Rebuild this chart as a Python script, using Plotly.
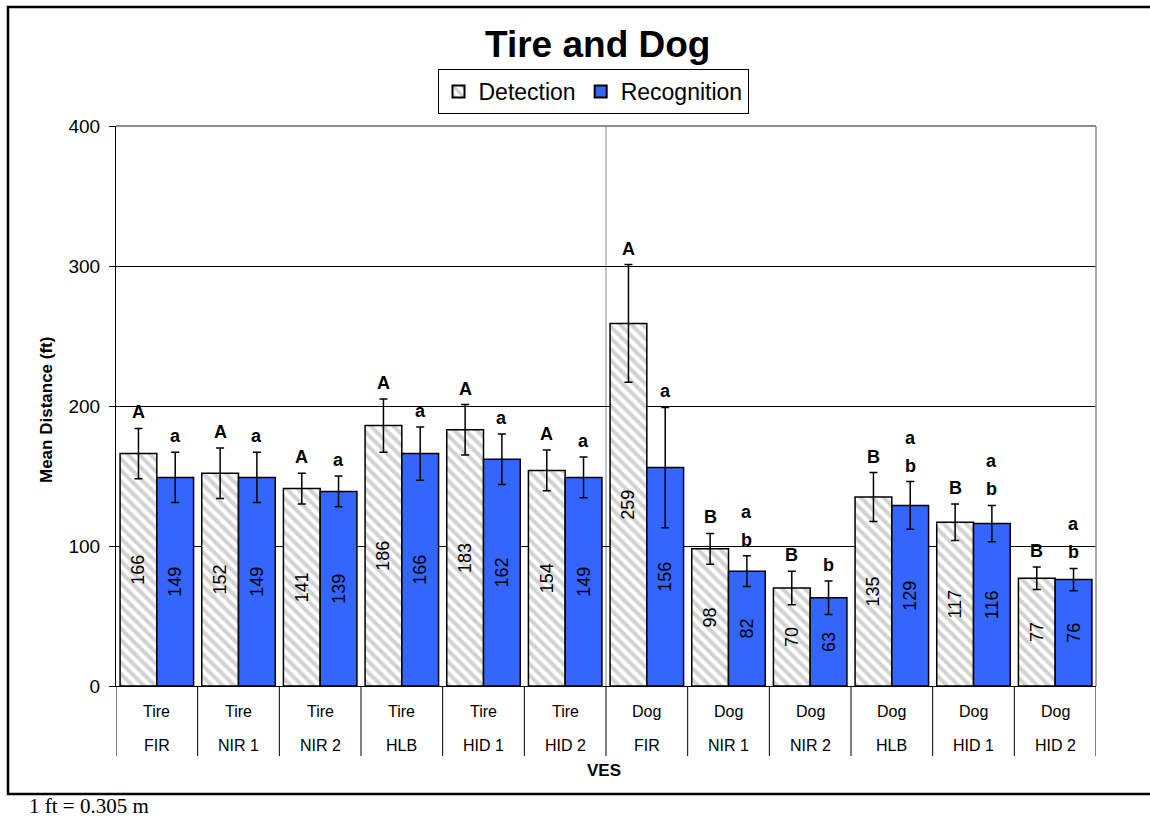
import plotly.graph_objects as go

# ---- data ----
targets = ["Tire", "Tire", "Tire", "Tire", "Tire", "Tire",
           "Dog", "Dog", "Dog", "Dog", "Dog", "Dog"]
ves = ["FIR", "NIR 1", "NIR 2", "HLB", "HID 1", "HID 2",
       "FIR", "NIR 1", "NIR 2", "HLB", "HID 1", "HID 2"]
detection = [166, 152, 141, 186, 183, 154, 259, 98, 70, 135, 117, 77]
recognition = [149, 149, 139, 166, 162, 149, 156, 82, 63, 129, 116, 76]
detection_err = [18, 18, 11, 19, 18, 14.5, 42, 11, 12, 17.5, 13, 8]
recognition_err = [18, 18, 11, 19, 18, 14.5, 43, 11, 12, 17, 13, 8]
detection_groups = [["A"], ["A"], ["A"], ["A"], ["A"], ["A"],
                    ["A"], ["B"], ["B"], ["B"], ["B"], ["B"]]
recognition_groups = [["a"], ["a"], ["a"], ["a"], ["a"], ["a"],
                      ["a"], ["b", "a"], ["b"], ["b", "a"], ["b", "a"], ["b", "a"]]
y_ticks = [0, 100, 200, 300, 400]

# ---- layout geometry (pixels) ----
W, H = 1150, 818
L, R, T, B = 116, 1096, 126, 686
PW, PH = R - L, B - T


def px_x(px):
    return (px - L) / PW


def px_y(py):
    return (B - py) / PH


x = list(range(len(ves)))
BLUE = "#3366FF"
ARIAL = "Arial, Liberation Sans, sans-serif"

fig = go.Figure()
fig.add_trace(go.Bar(
    name="Detection", x=x, y=detection,
    marker=dict(color="white", line=dict(color="black", width=1.5),
                pattern=dict(shape="\\", fgcolor="#a6a6a6", bgcolor="white",
                             size=8, solidity=0.5)),
    error_y=dict(type="data", array=detection_err, color="black",
                 thickness=1.5, width=4),
    text=[str(v) for v in detection], textposition="inside",
    insidetextanchor="middle", textangle=-90, constraintext="none",
    textfont=dict(family=ARIAL, size=18, color="black"),
))
fig.add_trace(go.Bar(
    name="Recognition", x=x, y=recognition,
    marker=dict(color=BLUE, line=dict(color="black", width=1.5)),
    error_y=dict(type="data", array=recognition_err, color="black",
                 thickness=1.5, width=4),
    text=[str(v) for v in recognition], textposition="inside",
    insidetextanchor="middle", textangle=-90, constraintext="none",
    textfont=dict(family=ARIAL, size=18, color="black"),
))

annotations = []
shapes = []

# significance letters above the error bars (stacked upwards)
for i in x:
    for series, errs, groups, off in (
        (detection, detection_err, detection_groups, -0.225),
        (recognition, recognition_err, recognition_groups, 0.225),
    ):
        for k, letter in enumerate(groups[i]):
            annotations.append(dict(
                x=i + off, y=series[i] + errs[i], xref="x", yref="y",
                text=f"<b>{letter}</b>", showarrow=False, yanchor="bottom",
                yshift=4 + 28 * k,
                font=dict(family=ARIAL, size=18, color="black")))

# two-row category table under the axis
for i in x:
    annotations.append(dict(x=i, y=px_y(711), xref="x", yref="paper",
                            text=targets[i], showarrow=False,
                            xanchor="center", yanchor="middle",
                            font=dict(family=ARIAL, size=16, color="black")))
    annotations.append(dict(x=i, y=px_y(745), xref="x", yref="paper",
                            text=ves[i], showarrow=False,
                            xanchor="center", yanchor="middle",
                            font=dict(family=ARIAL, size=16, color="black")))
for i in range(len(ves) + 1):
    shapes.append(dict(type="line", xref="x", yref="paper",
                       x0=i - 0.5, x1=i - 0.5, y0=0, y1=px_y(756),
                       line=dict(color="black", width=1)))

# plot-area border (top / right) and the Tire | Dog divider
shapes.append(dict(type="line", xref="paper", yref="paper", x0=0, x1=1,
                   y0=1, y1=1, line=dict(color="#8c8c8c", width=2)))
shapes.append(dict(type="line", xref="paper", yref="paper", x0=1, x1=1,
                   y0=0, y1=1, line=dict(color="#8c8c8c", width=1.5)))
shapes.append(dict(type="line", xref="x", yref="paper", x0=5.5, x1=5.5,
                   y0=0, y1=1, layer="below",
                   line=dict(color="#8c8c8c", width=1)))
# outer chart frame
shapes.append(dict(type="rect", xref="paper", yref="paper",
                   x0=px_x(8), x1=px_x(1160), y0=px_y(794), y1=px_y(7),
                   line=dict(color="black", width=2.5)))

# titles and footnote
annotations.append(dict(x=px_x(597), y=px_y(44), xref="paper", yref="paper",
                        text="<b>Tire and Dog</b>", showarrow=False,
                        xanchor="center", yanchor="middle",
                        font=dict(family=ARIAL, size=37, color="black")))
annotations.append(dict(x=px_x(46), y=px_y(410), xref="paper", yref="paper",
                        text="<b>Mean Distance (ft)</b>", showarrow=False,
                        textangle=-90, xanchor="center", yanchor="middle",
                        font=dict(family=ARIAL, size=17, color="black")))
annotations.append(dict(x=px_x(604), y=px_y(770), xref="paper", yref="paper",
                        text="<b>VES</b>", showarrow=False,
                        xanchor="center", yanchor="middle",
                        font=dict(family=ARIAL, size=17, color="black")))
annotations.append(dict(x=px_x(27), y=px_y(806), xref="paper", yref="paper",
                        text="1 ft = 0.305 m", showarrow=False,
                        xanchor="left", yanchor="middle",
                        font=dict(family="Liberation Serif, Times New Roman, serif",
                                  size=21, color="black")))

fig.update_layout(
    width=W, height=H,
    margin=dict(l=L, r=W - R, t=T, b=H - B, pad=0),
    paper_bgcolor="white", plot_bgcolor="white",
    barmode="group", bargap=0.1, bargroupgap=0,
    showlegend=True,
    legend=dict(orientation="h", x=px_x(593), xanchor="center",
                y=px_y(69), yanchor="top",
                bordercolor="black", borderwidth=1, bgcolor="white",
                font=dict(family=ARIAL, size=23, color="black"),
                itemsizing="constant"),
    xaxis=dict(range=[-0.5, len(ves) - 0.5], showticklabels=False,
               showgrid=False, zeroline=False, ticks="",
               showline=True, linecolor="black", linewidth=1),
    yaxis=dict(range=[0, 400], tickvals=y_ticks, showgrid=True,
               gridcolor="black", gridwidth=1,
               zeroline=False, showline=True, linecolor="black", linewidth=1,
               ticks="outside", ticklen=6, tickcolor="black",
               ticklabelstandoff=5,
               tickfont=dict(family=ARIAL, size=19, color="black")),
    annotations=annotations, shapes=shapes,
    font=dict(family=ARIAL),
)

fig.write_html("out.html")
